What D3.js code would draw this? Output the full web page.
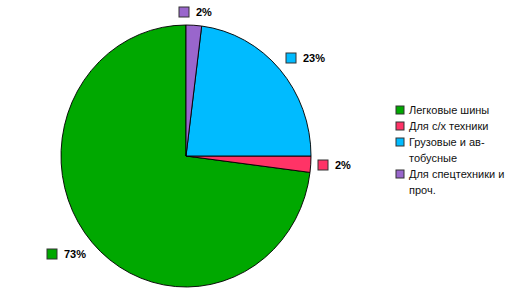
<!DOCTYPE html>
<html>
<head>
<meta charset="utf-8">
<script src="https://cdn.jsdelivr.net/npm/d3@7"></script>
<style>
  body { margin: 0; background: #fff; }
  text { font-family: "Liberation Sans", Arial, sans-serif; }
</style>
</head>
<body>
<div id="chart"></div>
<script>
const categories = ['Легковые шины', 'Для с/х техники', 'Грузовые и автобусные', 'Для спецтехники и проч.'];
const legendLines = [['Легковые шины'], ['Для с/х техники'], ['Грузовые и ав-', 'тобусные'], ['Для спецтехники и', 'проч.']];
const shares = [73, 2, 23, 2];
const colors = ['#00a800', '#ff3366', '#00bbff', '#9966cc'];

const width = 524;
const height = 298;
const cx = 186, cy = 156;
const radius = 125;
const yStretch = 131 / 125;

const svg = d3.select('#chart')
    .append('svg')
    .attr('width', width)
    .attr('height', height);

// excel draws the series counter-clockwise from 12 o'clock here
const pie = d3.pie()
    .sort(null)
    .value(d => d)
    .startAngle(0)
    .endAngle(-2 * Math.PI);

const arc = d3.arc().innerRadius(0).outerRadius(radius);
const arcs = pie(shares);

svg.append('g')
    .attr('transform', `translate(${cx},${cy}) scale(1,${yStretch})`)
    .selectAll('path')
    .data(arcs)
    .join('path')
        .attr('d', arc)
        .attr('fill', (d, i) => colors[i])
        .attr('stroke', '#000')
        .attr('stroke-width', 0.9);

// data labels: box + percent, pushed out along the slice middle
const labelPos = [
    {x: 47, y: 249},
    {x: 318, y: 160},
    {x: 286, y: 53},
    {x: 179, y: 7}
];

const labels = svg.append('g')
    .selectAll('g')
    .data(arcs)
    .join('g')
        .attr('transform', (d, i) => `translate(${labelPos[i].x},${labelPos[i].y})`);

labels.append('rect')
    .attr('width', 10)
    .attr('height', 10)
    .attr('fill', (d, i) => colors[i])
    .attr('stroke', '#333')
    .attr('stroke-width', 1);

labels.append('text')
    .attr('x', 17)
    .attr('y', 9)
    .attr('font-size', '11px')
    .attr('font-weight', 'bold')
    .attr('fill', '#000')
    .text(d => d.data + '%');

// legend
const legendY = [110, 126, 142, 174];
const legend = svg.append('g')
    .selectAll('g')
    .data(categories)
    .join('g')
        .attr('transform', (d, i) => `translate(396,${legendY[i]})`);

legend.append('rect')
    .attr('x', 0)
    .attr('y', -4)
    .attr('width', 8)
    .attr('height', 8)
    .attr('fill', (d, i) => colors[i])
    .attr('stroke', '#333')
    .attr('stroke-width', 1);

legend.append('text')
    .attr('x', 13)
    .attr('y', 4)
    .attr('font-size', '11px')
    .attr('fill', '#111')
    .selectAll('tspan')
    .data((d, i) => legendLines[i])
    .join('tspan')
        .attr('x', 13)
        .attr('dy', (d, j) => j === 0 ? 0 : 16)
        .text(d => d);
</script>
</body>
</html>
